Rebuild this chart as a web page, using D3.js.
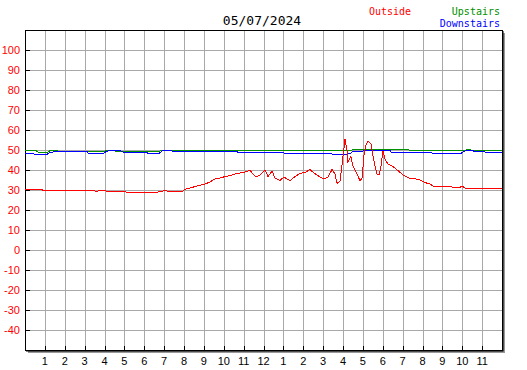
<!DOCTYPE html>
<html>
<head>
<meta charset="utf-8">
<script src="https://cdn.jsdelivr.net/npm/d3@7"></script>
<style>
  body { margin: 0; background: #fff; }
  svg { display: block; }
</style>
</head>
<body>
<div id="chart"></div>
<script>
// readings, [hour of day, degrees]
var outside = [
  [0, 30.4], [0.86, 30.4], [0.9, 29.8], [3.47, 29.8], [3.52, 29.4], [3.67, 29.4], [3.72, 29.8],
  [4.03, 29.8], [4.08, 29.5], [5.03, 29.5], [5.08, 28.9], [6.69, 28.9], [6.74, 29.5], [6.94, 29.5],
  [7.04, 30.0], [7.14, 29.5], [7.95, 29.5], [8.05, 30.3], [8.3, 31], [8.55, 31.7], [8.81, 32.4],
  [9.06, 33], [9.31, 34], [9.56, 35.6], [9.81, 36], [10.06, 36.7], [10.31, 37.2], [10.57, 38],
  [10.82, 38.5], [11.07, 39], [11.32, 39.8], [11.47, 38], [11.62, 36.5], [11.82, 37.5], [12.08, 40],
  [12.23, 36.7], [12.43, 39.5], [12.58, 36], [12.83, 34.8], [13.03, 36.5], [13.33, 34.6], [13.58, 36.7],
  [13.84, 38.3], [14.09, 38.8], [14.34, 40.2], [14.54, 38.5], [14.84, 36.5], [15.04, 35.5], [15.25, 36.5],
  [15.45, 40.3], [15.6, 38], [15.7, 33.3], [15.85, 34.5], [16.0, 46.7], [16.1, 55.5], [16.2, 50],
  [16.25, 44], [16.4, 46.7], [16.5, 42], [16.7, 38.3], [16.86, 34.5], [16.96, 36], [17.06, 48],
  [17.16, 52.5], [17.26, 54.6], [17.41, 53], [17.51, 47], [17.61, 42], [17.71, 38], [17.81, 37.5],
  [17.91, 41.7], [18.01, 49.7], [18.11, 45.5], [18.26, 43], [18.52, 41.7], [18.77, 39.7], [19.02, 37.5],
  [19.37, 35.8], [19.67, 35.5], [19.87, 35], [20.13, 33.7], [20.38, 33], [20.53, 32], [21.48, 31.5],
  [21.89, 31.3], [21.99, 32], [22.14, 31], [22.24, 30.8], [24, 30.8]
];

var upstairs = [
  [0, 49.8], [0.55, 49.8], [0.65, 49.0], [1.16, 49.0], [1.26, 49.7], [1.56, 50], [1.66, 49.4],
  [3.97, 49.4], [4.13, 49.8], [4.28, 50], [4.53, 49.5], [6.79, 49.5], [6.94, 50], [16.45, 50],
  [16.55, 50.4], [19.22, 50.4], [19.32, 50], [22.19, 50], [22.24, 50.5], [22.39, 50.5], [22.44, 50],
  [24, 50]
];

var downstairs = [
  [0, 48.3], [0.4, 48.3], [0.5, 47.8], [1.11, 47.8], [1.16, 48.3], [1.31, 48.8], [1.51, 49.3],
  [3.12, 49.3], [3.17, 48.4], [3.97, 48.4], [4.08, 49.3], [4.28, 49.8], [4.83, 49.5], [4.93, 49],
  [6.14, 49], [6.19, 48.3], [6.74, 48.3], [6.84, 49], [6.94, 49.8], [7.3, 49.8], [7.4, 49.5],
  [9.21, 49.5], [9.26, 49], [9.36, 49.5], [10.62, 49.5], [10.72, 48.8], [12.98, 48.8], [13.08, 48.3],
  [15.4, 48.3], [15.5, 47.8], [16.15, 47.8], [16.25, 48.3], [16.4, 48.3], [16.5, 49.5], [17.0, 49.5],
  [17.06, 49.8], [18.36, 49.8], [18.42, 48.8], [20.43, 48.8], [20.53, 48.3], [21.94, 48.3], [22.04, 49],
  [22.19, 49.8], [22.54, 49.8], [22.59, 49.3], [23.09, 49.3], [23.19, 48.8], [24, 48.8]
];

var hourLabels = ["1", "2", "3", "4", "5", "6", "7", "8", "9", "10", "11", "12",
                  "1", "2", "3", "4", "5", "6", "7", "8", "9", "10", "11"];
var tempTicks = [100, 90, 80, 70, 60, 50, 40, 30, 20, 10, 0, -10, -20, -30, -40];

var title = "05/07/2024";
var legend = [
  {name: "Outside", color: "#ff0000"},
  {name: "Upstairs", color: "#009000"},
  {name: "Downstairs", color: "#0000ff"}
];

var width = 527, height = 370;
var plot = {left: 25, top: 30, right: 502, bottom: 350};

var x = d3.scaleLinear().domain([0, 24]).range([plot.left, plot.right]);
var y = d3.scaleLinear().domain([-50, 110]).range([plot.bottom, plot.top]);

var svg = d3.select("#chart").append("svg")
    .attr("width", width)
    .attr("height", height);

// shadow + frame
svg.append("rect")
    .attr("x", plot.left + 3).attr("y", plot.top + 3)
    .attr("width", plot.right - plot.left).attr("height", plot.bottom - plot.top)
    .attr("fill", "#999");
svg.append("rect")
    .attr("x", plot.left + 1).attr("y", plot.top + 1)
    .attr("width", plot.right - plot.left + 0.5).attr("height", plot.bottom - plot.top + 0.5)
    .attr("fill", "#000");
svg.append("rect")
    .attr("x", plot.left).attr("y", plot.top)
    .attr("width", plot.right - plot.left).attr("height", plot.bottom - plot.top)
    .attr("fill", "#fff");

var grid = svg.append("g")
    .attr("stroke", "#a8a8a8")
    .attr("shape-rendering", "crispEdges");

grid.selectAll(".vgrid")
    .data(d3.range(1, 24))
    .enter().append("line")
    .attr("class", "vgrid")
    .attr("x1", function(d) { return Math.round(x(d)) + 0.5; })
    .attr("x2", function(d) { return Math.round(x(d)) + 0.5; })
    .attr("y1", plot.top)
    .attr("y2", plot.bottom);

grid.selectAll(".hgrid")
    .data(tempTicks)
    .enter().append("line")
    .attr("class", "hgrid")
    .attr("y1", function(d) { return Math.round(y(d)) + 0.5; })
    .attr("y2", function(d) { return Math.round(y(d)) + 0.5; })
    .attr("x1", plot.left)
    .attr("x2", plot.right);

// border
svg.append("rect")
    .attr("x", plot.left + 0.5).attr("y", plot.top + 0.5)
    .attr("width", plot.right - plot.left).attr("height", plot.bottom - plot.top)
    .attr("fill", "none")
    .attr("stroke", "#000")
    .attr("shape-rendering", "crispEdges");

// tick marks
var ticks = svg.append("g")
    .attr("stroke", "#000")
    .attr("shape-rendering", "crispEdges");

ticks.selectAll(".ytick")
    .data(tempTicks)
    .enter().append("line")
    .attr("x1", plot.left)
    .attr("x2", plot.left + 5)
    .attr("y1", function(d) { return Math.round(y(d)) + 0.5; })
    .attr("y2", function(d) { return Math.round(y(d)) + 0.5; });

ticks.selectAll(".xtick")
    .data(d3.range(1, 24))
    .enter().append("line")
    .attr("x1", function(d) { return Math.round(x(d)) + 0.5; })
    .attr("x2", function(d) { return Math.round(x(d)) + 0.5; })
    .attr("y1", plot.bottom - 4)
    .attr("y2", plot.bottom);

// lines
var line = d3.line()
    .x(function(d) { return x(d[0]); })
    .y(function(d) { return y(d[1]); });

var series = [
  {data: upstairs, color: legend[1].color},
  {data: downstairs, color: legend[2].color},
  {data: outside, color: legend[0].color}
];

svg.append("g").selectAll("path")
    .data(series)
    .enter().append("path")
    .attr("d", function(d) { return line(d.data); })
    .attr("fill", "none")
    .attr("stroke", function(d) { return d.color; })
    .attr("stroke-width", 1)
    .attr("shape-rendering", "crispEdges");

// axis labels
svg.append("g").selectAll("text")
    .data(tempTicks)
    .enter().append("text")
    .attr("x", 20)
    .attr("y", function(d) { return y(d) + 4; })
    .attr("text-anchor", "end")
    .attr("font-family", "Liberation Sans, Arial, sans-serif")
    .attr("font-size", 11)
    .attr("fill", "#ff0000")
    .text(function(d) { return d; });

svg.append("g").selectAll("text")
    .data(hourLabels)
    .enter().append("text")
    .attr("x", function(d, i) { return x(i + 1); })
    .attr("y", 365)
    .attr("text-anchor", "middle")
    .attr("font-family", "Liberation Sans, Arial, sans-serif")
    .attr("font-size", 11)
    .attr("fill", "#000")
    .text(function(d) { return d; });

svg.append("text")
    .attr("x", 262)
    .attr("y", 25)
    .attr("text-anchor", "middle")
    .attr("font-family", "DejaVu Sans Mono, monospace")
    .attr("font-size", 13)
    .attr("fill", "#000")
    .text(title);

svg.append("text")
    .attr("x", 369).attr("y", 15)
    .attr("font-family", "DejaVu Sans Mono, monospace")
    .attr("font-size", 10)
    .attr("fill", legend[0].color)
    .text(legend[0].name);
svg.append("text")
    .attr("x", 500).attr("y", 15)
    .attr("text-anchor", "end")
    .attr("font-family", "DejaVu Sans Mono, monospace")
    .attr("font-size", 10)
    .attr("fill", legend[1].color)
    .text(legend[1].name);
svg.append("text")
    .attr("x", 500).attr("y", 27)
    .attr("text-anchor", "end")
    .attr("font-family", "DejaVu Sans Mono, monospace")
    .attr("font-size", 10)
    .attr("fill", legend[2].color)
    .text(legend[2].name);
</script>
</body>
</html>
